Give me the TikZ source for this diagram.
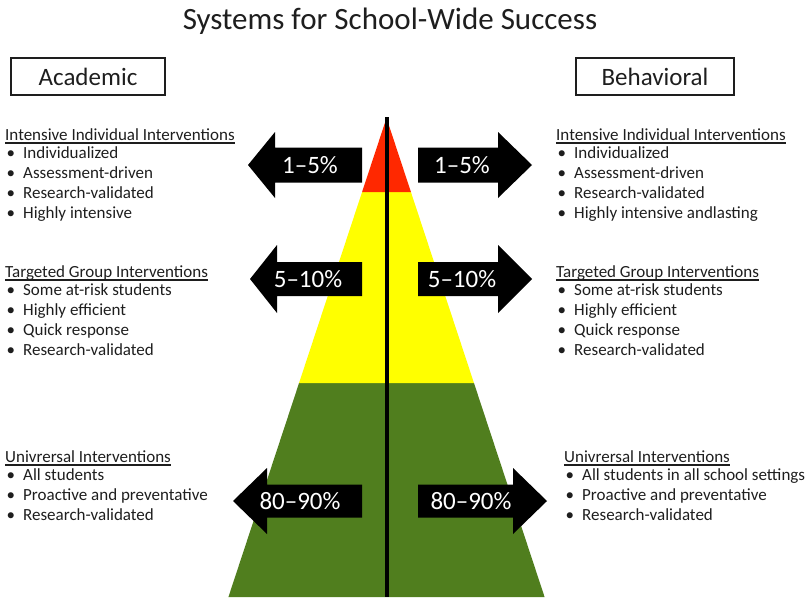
\documentclass[tikz,border=0pt]{standalone}
\usepackage{fontspec}
\setmainfont{Carlito}
\definecolor{pyrred}{RGB}{255,40,0}
\definecolor{pyryellow}{RGB}{255,255,0}
\definecolor{pyrgreen}{RGB}{80,126,30}
\definecolor{txt}{RGB}{30,30,30}
\newcommand{\hdr}[1]{\setbox0\hbox{#1}\rlap{\rule[-3.5pt]{\wd0}{1.2pt}}\box0}
\newcommand{\blt}{\hspace{1.5pt}\makebox[16.5pt][l]{•}}
\tikzset{
  lst/.style={anchor=base west,inner sep=0pt,text=txt,font=\fontsize{17}{20}\selectfont},
  pct/.style={text=white,font=\fontsize{25}{30}\selectfont,inner sep=0pt},
  hdbox/.style={draw=txt,line width=2.5pt,minimum height=37pt,font=\fontsize{25}{30}\selectfont,text=txt}
}
\begin{document}
\begin{tikzpicture}[x=1pt,y=-1pt]
\pgfmathsetmacro{\cx}{386.5}
\pgfmathsetmacro{\ty}{118}
\pgfmathsetmacro{\s}{0.33}
\useasboundingbox (0,0) rectangle (805,597);
\node[text=txt,font=\fontsize{31}{37}\selectfont] (title) at (390,21) {Systems for School-Wide Success};
\node[hdbox,minimum width=154pt] (acad) at (88,76.5) {Academic};
\node[hdbox,minimum width=158pt] (behav) at (655,76.5) {Behavioral};
\fill[pyrgreen] ({\cx-\s*(383-\ty)},383) -- ({\cx+\s*(383-\ty)},383) -- ({\cx+\s*(597-\ty)},597) -- ({\cx-\s*(597-\ty)},597) -- cycle;
\fill[pyryellow] ({\cx-\s*(192-\ty)},192) -- ({\cx+\s*(192-\ty)},192) -- ({\cx+\s*(383-\ty)},383) -- ({\cx-\s*(383-\ty)},383) -- cycle;
\fill[pyrred] (\cx,\ty) -- ({\cx+\s*(192-\ty)},192) -- ({\cx-\s*(192-\ty)},192) -- cycle;
\draw[line width=4pt] (387,117) -- (387,597);
\foreach \y/\hh/\bh/\lt/\lb/\rb/\rt/\lab/\lx/\rx/\n in {165/33/17.5/248/275/498/532/1–5\%/310/462/1,279/34/17/250/277/498/532/5–10\%/308/462/2,501/33/16.5/233/267/513/547/80–90\%/300/471/3}
{
\fill (362,\y-\bh) -- (\lb,\y-\bh) -- (\lb,\y-\hh) -- (\lt,\y) -- (\lb,\y+\hh) -- (\lb,\y+\bh) -- (362,\y+\bh) -- cycle;
\fill (418,\y-\bh) -- (\rb,\y-\bh) -- (\rb,\y-\hh) -- (\rt,\y) -- (\rb,\y+\hh) -- (\rb,\y+\bh) -- (418,\y+\bh) -- cycle;
\node[pct] (pl\n) at (\lx,\y) {\lab};
\node[pct] (pr\n) at (\rx,\y) {\lab};
}
\node[lst] (al1) at (5,140) {\begin{tabular}[t]{@{}l@{}}\hdr{Intensive Individual Interventions}\\[-2pt]
\blt Individualized\\ \blt Assessment-driven\\ \blt Research-validated\\ \blt Highly intensive\end{tabular}};
\node[lst] (al2) at (5,277) {\begin{tabular}[t]{@{}l@{}}\hdr{Targeted Group Interventions}\\[-2pt]
\blt Some at-risk students\\ \blt Highly efficient\\ \blt Quick response\\ \blt Research-validated\end{tabular}};
\node[lst] (al3) at (5,462) {\begin{tabular}[t]{@{}l@{}}\hdr{Univrersal Interventions}\\[-2pt]
\blt All students\\ \blt Proactive and preventative\\ \blt Research-validated\end{tabular}};
\node[lst] (bl1) at (556,140) {\begin{tabular}[t]{@{}l@{}}\hdr{Intensive Individual Interventions}\\[-2pt]
\blt Individualized\\ \blt Assessment-driven\\ \blt Research-validated\\ \blt Highly intensive andlasting\end{tabular}};
\node[lst] (bl2) at (556,277) {\begin{tabular}[t]{@{}l@{}}\hdr{Targeted Group Interventions}\\[-2pt]
\blt Some at-risk students\\ \blt Highly efficient\\ \blt Quick response\\ \blt Research-validated\end{tabular}};
\node[lst] (bl3) at (564,462) {\begin{tabular}[t]{@{}l@{}}\hdr{Univrersal Interventions}\\[-2pt]
\blt All students in all school settings\\ \blt Proactive and preventative\\ \blt Research-validated\end{tabular}};
\end{tikzpicture}
\end{document}
